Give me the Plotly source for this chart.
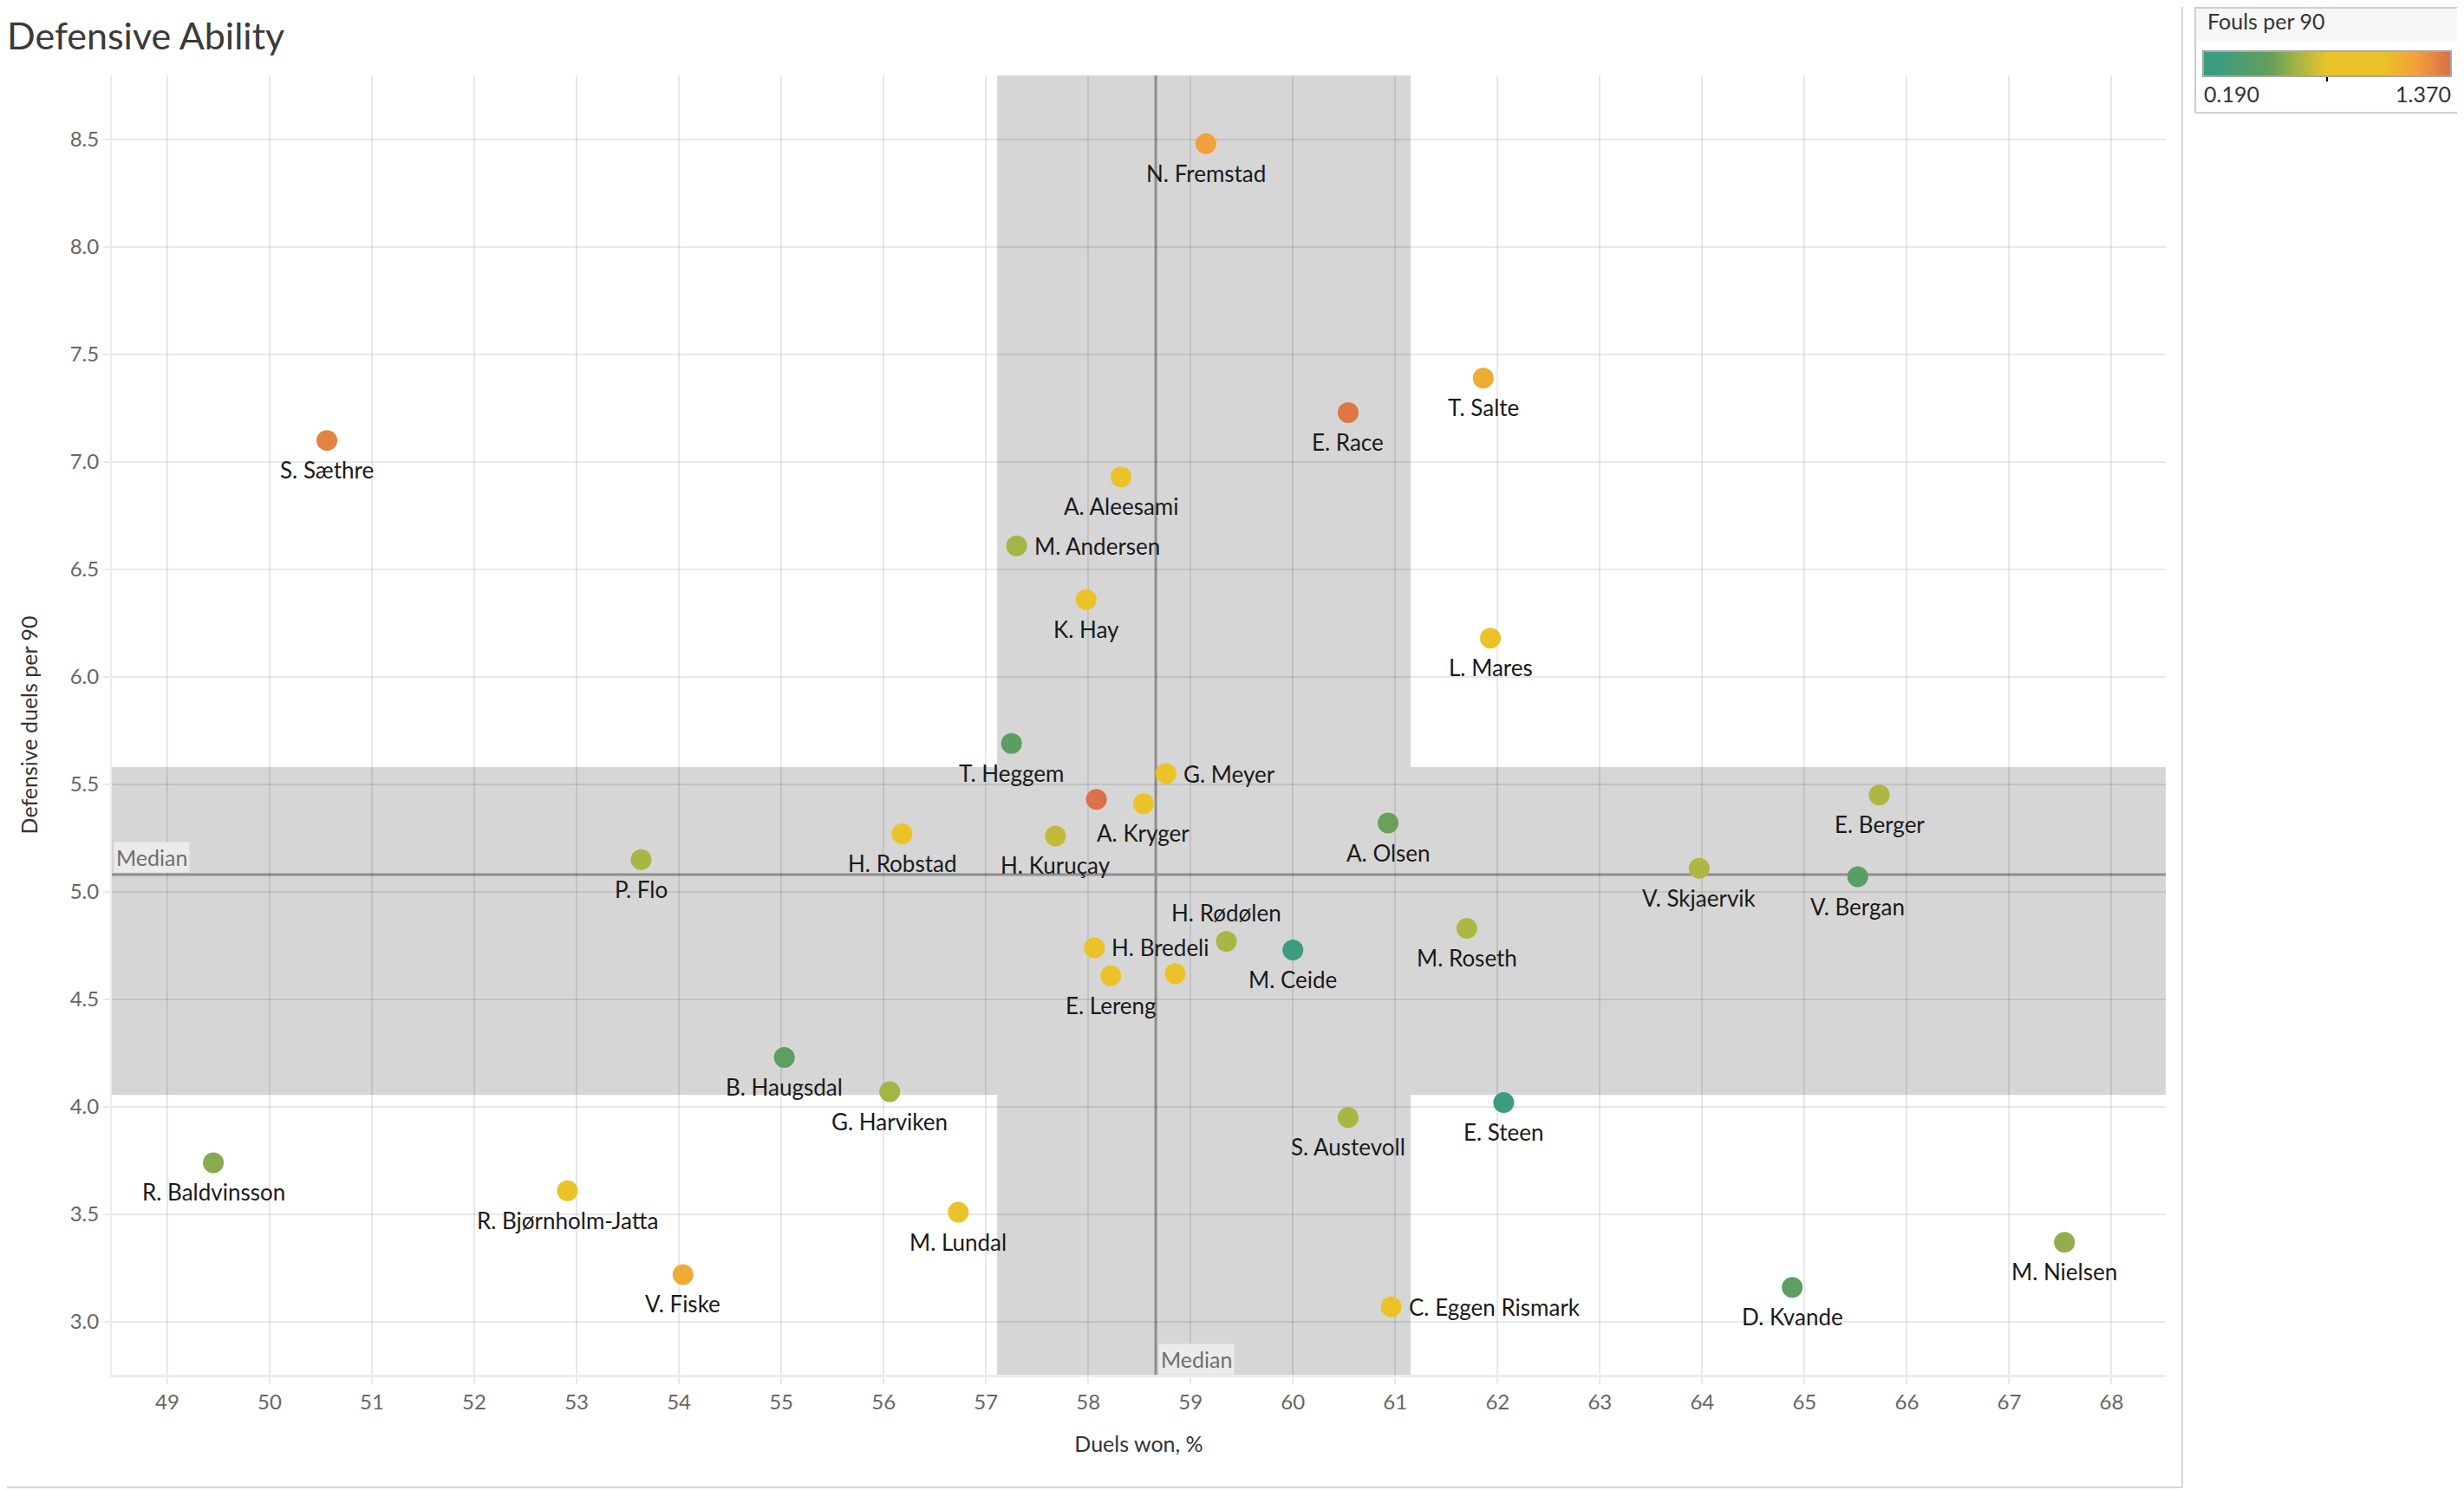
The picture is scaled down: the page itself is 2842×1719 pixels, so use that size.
import plotly.graph_objects as go

# ---------------- data ----------------
players = [
    "N. Fremstad", "T. Salte", "E. Race", "S. Sæthre", "A. Aleesami", "M. Andersen",
    "K. Hay", "L. Mares", "T. Heggem", "G. Meyer", "E. Berger", "", "A. Kryger",
    "A. Olsen", "H. Robstad", "H. Kuruçay", "P. Flo", "V. Skjaervik", "V. Bergan",
    "M. Roseth", "H. Rødølen", "M. Ceide", "H. Bredeli", "E. Lereng", "",
    "B. Haugsdal", "G. Harviken", "E. Steen", "S. Austevoll", "R. Baldvinsson",
    "R. Bjørnholm-Jatta", "M. Lundal", "M. Nielsen", "V. Fiske", "D. Kvande",
    "C. Eggen Rismark",
]
duels_won = [
    59.15, 61.86, 60.54, 50.56, 58.32, 57.30,
    57.98, 61.93, 57.25, 58.76, 65.73, 58.08, 58.54,
    60.93, 56.18, 57.68, 53.63, 63.97, 65.52,
    61.70, 59.35, 60.00, 58.06, 58.22, 58.85,
    55.03, 56.06, 62.06, 60.54, 49.45,
    52.91, 56.73, 67.54, 54.04, 64.88,
    60.96,
]
def_duels = [
    8.48, 7.39, 7.23, 7.10, 6.93, 6.61,
    6.36, 6.18, 5.69, 5.55, 5.45, 5.43, 5.41,
    5.32, 5.27, 5.26, 5.15, 5.11, 5.07,
    4.83, 4.77, 4.73, 4.74, 4.61, 4.62,
    4.23, 4.07, 4.02, 3.95, 3.74,
    3.61, 3.51, 3.37, 3.22, 3.16,
    3.07,
]
fouls = [
    1.20, 1.15, 1.34, 1.30, 0.88, 0.64,
    0.95, 0.92, 0.46, 1.02, 0.66, 1.36, 0.88,
    0.52, 0.86, 0.70, 0.65, 0.66, 0.45,
    0.66, 0.65, 0.24, 0.87, 0.95, 0.88,
    0.47, 0.64, 0.24, 0.65, 0.58,
    0.87, 0.95, 0.60, 1.15, 0.47,
    0.88,
]
label_pos = [
    "below", "below", "below", "below", "below", "right",
    "below", "below", "below", "right", "below", "below", "below",
    "below", "below", "below", "below", "below", "below",
    "below", "above", "below", "right", "below", "below",
    "below", "below", "below", "below", "below",
    "below", "below", "below", "below", "below",
    "right",
]
x_ticks = list(range(49, 69))
y_ticks = [3.0, 3.5, 4.0, 4.5, 5.0, 5.5, 6.0, 6.5, 7.0, 7.5, 8.0, 8.5]
median_x = 58.66
median_y = 5.08
band_x = [57.11, 61.15]
band_y = [4.055, 5.58]
fouls_min, fouls_max = 0.19, 1.37
fouls_median = 0.78

# ---------------- layout geometry (page pixel coords) ----------------
OFF = 8                      # page body margin of the html page
PAGE_W, PAGE_H = 2842, 1719
W, H = PAGE_W - OFF, PAGE_H - OFF
PL, PR, PT, PB = 129, 2498, 87, 1586     # plot area in page coords
ML, MT = PL - OFF, PT - OFF
PW, PH = PR - PL, PB - PT
MR, MB = W - ML - PW, H - MT - PH


def px(xp):
    return (xp - PL) / PW


def py(yp):
    return (PB - yp) / PH


FONT = "Lato, 'Open Sans', sans-serif"

colorscale = [
    [0.0, "#3a9c84"],
    [0.06, "#3d9c80"],
    [0.27, "#649e5b"],
    [0.38, "#a3b545"],
    [0.50, "#ebc328"],
    [0.72, "#ebc328"],
    [0.86, "#f0a03c"],
    [1.0, "#da6e47"],
]

fig = go.Figure()
fig.add_trace(go.Scatter(
    x=duels_won, y=def_duels, mode="markers",
    marker=dict(
        size=24, color=fouls, colorscale=colorscale, cmin=fouls_min, cmax=fouls_max,
        line=dict(width=0),
        colorbar=dict(
            orientation="h", x=px(2541), xanchor="left", y=py(59), yanchor="top",
            lenmode="pixels", len=286, thickness=29, xpad=0, ypad=0,
            outlinecolor="#a8a8a8", outlinewidth=2,
            showticklabels=False, ticks="",
        ),
    ),
    hoverinfo="skip", showlegend=False, cliponaxis=False,
))

shapes = []
shapes.append(dict(type="rect", xref="x", yref="paper", x0=band_x[0], x1=band_x[1], y0=0, y1=1,
                   fillcolor="#d6d6d6", line=dict(width=0), layer="below"))
shapes.append(dict(type="rect", xref="paper", yref="y", x0=0, x1=1, y0=band_y[0], y1=band_y[1],
                   fillcolor="#d6d6d6", line=dict(width=0), layer="below"))
shapes.append(dict(type="line", xref="x", yref="paper", x0=median_x, x1=median_x, y0=0, y1=1,
                   line=dict(color="#8e8e8e", width=3), layer="below"))
shapes.append(dict(type="line", xref="paper", yref="y", x0=0, x1=1, y0=median_y, y1=median_y,
                   line=dict(color="#8e8e8e", width=3), layer="below"))
# dashboard frame lines
shapes.append(dict(type="line", xref="paper", yref="paper", x0=px(2517), x1=px(2517), y0=py(OFF), y1=py(1716),
                   line=dict(color="#d4d4d4", width=2)))
shapes.append(dict(type="line", xref="paper", yref="paper", x0=px(OFF), x1=px(2517), y0=py(1716), y1=py(1716),
                   line=dict(color="#d4d4d4", width=2)))
# legend box
shapes.append(dict(type="rect", xref="paper", yref="paper", x0=px(2532), x1=px(2837), y0=py(47), y1=py(OFF + 1),
                   fillcolor="#f7f7f7", line=dict(width=0)))
shapes.append(dict(type="rect", xref="paper", yref="paper", x0=px(2532), x1=px(2837), y0=py(130), y1=py(OFF + 1),
                   fillcolor="rgba(0,0,0,0)", line=dict(color="#d0d0d0", width=2)))
mid_xp = 2541 + (fouls_median - fouls_min) / (fouls_max - fouls_min) * 286
shapes.append(dict(type="line", xref="paper", yref="paper", x0=px(mid_xp), x1=px(mid_xp), y0=py(86), y1=py(94),
                   line=dict(color="#000000", width=2)))

annotations = [
    dict(text="Median", xref="paper", yref="y", x=0.001, y=median_y, xanchor="left", yanchor="bottom",
         showarrow=False, bgcolor="#ebebeb", font=dict(family=FONT, size=25, color="#6e6e6e"), borderpad=2, yshift=2),
    dict(text="Median", xref="x", yref="paper", x=median_x, y=0, xanchor="left", yanchor="bottom",
         showarrow=False, bgcolor="#ebebeb", font=dict(family=FONT, size=25, color="#6e6e6e"), borderpad=2, xshift=3),
    dict(text="Fouls per 90", xref="paper", yref="paper", x=px(2544), y=py(24), xanchor="left", yanchor="middle",
         showarrow=False, font=dict(family=FONT, size=25, color="#333333")),
    dict(text="0.190", xref="paper", yref="paper", x=px(2540), y=py(108), xanchor="left", yanchor="middle",
         showarrow=False, font=dict(family=FONT, size=25, color="#333333")),
    dict(text="1.370", xref="paper", yref="paper", x=px(2829), y=py(108), xanchor="right", yanchor="middle",
         showarrow=False, font=dict(family=FONT, size=25, color="#333333")),
]

# point labels, placed at each point through the data axes
for name, xv, yv, pos in zip(players, duels_won, def_duels, label_pos):
    if not name:
        continue
    a = dict(text=name, x=xv, y=yv, xref="x", yref="y", showarrow=False,
             font=dict(family=FONT, size=26, color="#1a1a1a"))
    if pos == "below":
        a.update(xanchor="center", yanchor="middle", yshift=-34)
    elif pos == "above":
        a.update(xanchor="center", yanchor="middle", yshift=33)
    else:
        a.update(xanchor="left", yanchor="middle", xshift=18)
    annotations.append(a)

fig.update_layout(
    width=W, height=H,
    margin=dict(l=ML, r=MR, t=MT, b=MB, autoexpand=False),
    paper_bgcolor="white", plot_bgcolor="white",
    font=dict(family=FONT, color="#333333"),
    title=dict(text="Defensive Ability", x=0, xref="container", xanchor="left",
               y=1 - (42 - OFF) / H, yref="container", yanchor="middle",
               font=dict(family=FONT, size=43, color="#3a3a3a")),
    shapes=shapes, annotations=annotations,
    xaxis=dict(
        range=[48.458, 68.53], tickvals=x_ticks, ticktext=[str(v) for v in x_ticks],
        showgrid=True, gridcolor="rgba(0,0,0,0.09)", gridwidth=2, zeroline=False,
        ticks="outside", ticklen=8, tickcolor="#e8e8e8", tickwidth=2,
        showline=True, linecolor="#ececec", linewidth=3,
        tickfont=dict(family=FONT, size=24, color="#666666"),
        title=dict(text="Duels won, %", font=dict(family=FONT, size=25, color="#333333"), standoff=28),
    ),
    yaxis=dict(
        range=[2.754, 8.798], tickvals=y_ticks, ticktext=[f"{v:.1f}" for v in y_ticks],
        showgrid=True, gridcolor="rgba(0,0,0,0.09)", gridwidth=2, zeroline=False,
        ticks="outside", ticklen=8, tickcolor="#e8e8e8", tickwidth=2,
        showline=True, linecolor="#ececec", linewidth=2,
        tickfont=dict(family=FONT, size=24, color="#666666"),
        title=dict(text="Defensive duels per 90", font=dict(family=FONT, size=25, color="#333333"), standoff=30),
    ),
)

fig.write_html("out.html")
